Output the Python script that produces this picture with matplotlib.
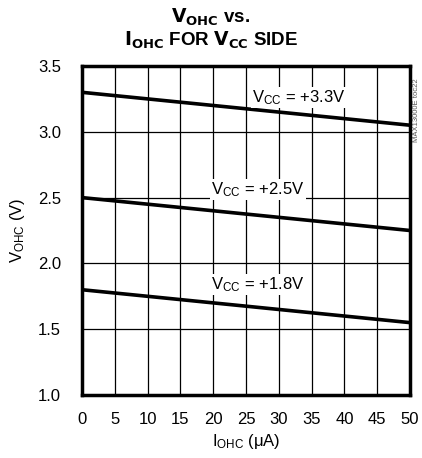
import matplotlib
matplotlib.use('Agg')
import matplotlib.pyplot as plt

plt.rcParams['font.family'] = ['Liberation Sans Narrow', 'Liberation Sans', 'DejaVu Sans']

# data
i_ohc = [0, 50]
v_33 = [3.30, 3.05]
v_25 = [2.50, 2.25]
v_18 = [1.80, 1.55]
xticks = [0, 5, 10, 15, 20, 25, 30, 35, 40, 45, 50]
yticks = [1.0, 1.5, 2.0, 2.5, 3.0, 3.5]

fig = plt.figure(figsize=(4.22, 4.58), dpi=100)
ax = fig.add_axes([82/422, 1-395/458, 328/422, 329/458])

ax.plot(i_ohc, v_33, color='black', lw=2.6, zorder=3)
ax.plot(i_ohc, v_25, color='black', lw=2.6, zorder=3)
ax.plot(i_ohc, v_18, color='black', lw=2.6, zorder=3)

ax.set_xlim(0, 50)
ax.set_ylim(1.0, 3.5)
ax.set_xticks(xticks)
ax.set_yticks(yticks)
ax.set_yticklabels(['%.1f' % v for v in yticks])
ax.grid(True, color='black', lw=0.9)
ax.tick_params(axis='x', length=0, labelsize=12, pad=12)
ax.tick_params(axis='y', length=0, labelsize=12, pad=15)
for s in ax.spines.values():
    s.set_linewidth(2.5)

box = dict(facecolor='white', edgecolor='none', pad=1)
ax.text(33, 3.26, '$\\mathregular{V_{CC}}$ = +3.3V', ha='center', va='center', fontsize=12, bbox=box, zorder=4)
ax.text(26.8, 2.56, '$\\mathregular{V_{CC}}$ = +2.5V', ha='center', va='center', fontsize=12, bbox=box, zorder=4)
ax.text(26.8, 1.84, '$\\mathregular{V_{CC}}$ = +1.8V', ha='center', va='center', fontsize=12, bbox=box, zorder=4)

ax.set_xlabel('$\\mathregular{I_{OHC}}$ ($\\mathregular{\\mu}$A)', fontsize=12, labelpad=4)
ax.set_ylabel('$\\mathregular{V_{OHC}}$ (V)', fontsize=12, labelpad=8)

fig.text(0.5, 1-17/458, '$\\mathbf{V_{OHC}}$ vs.', ha='center', va='center', fontsize=13.5, fontweight='bold')
fig.text(0.5, 1-40/458, '$\\mathbf{I_{OHC}}$ FOR $\\mathbf{V_{CC}}$ SIDE', ha='center', va='center', fontsize=13.5, fontweight='bold')
fig.text(416/422, 1-110/458, 'MAX13000E toc22', rotation=90, ha='center', va='center', fontsize=5.5, color='#555555')

fig.savefig('out.png', dpi=100)
